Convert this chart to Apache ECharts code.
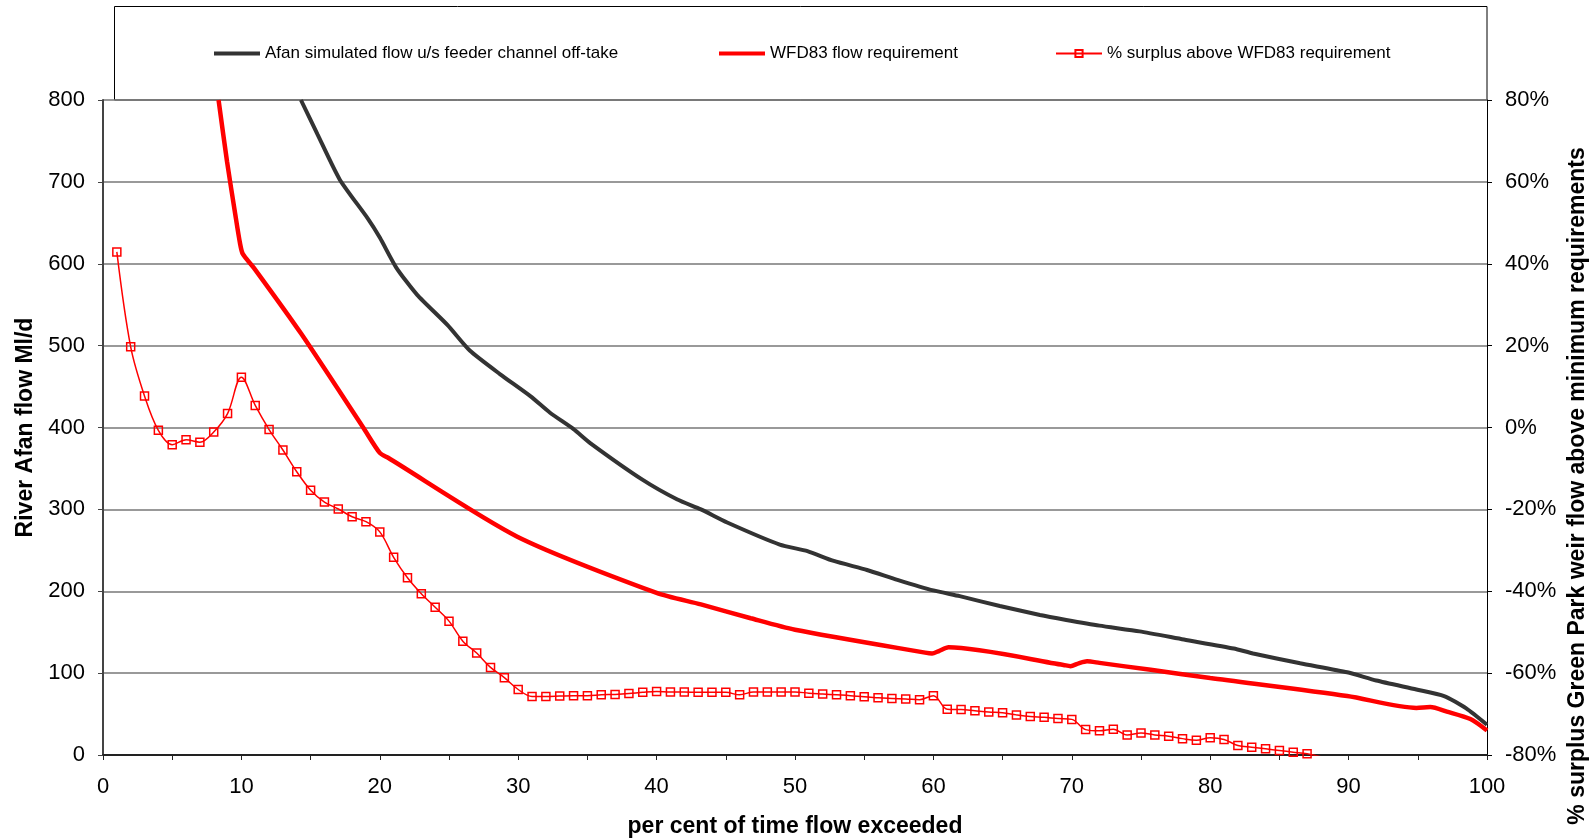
<!DOCTYPE html>
<html>
<head>
<meta charset="utf-8">
<script src="https://cdn.jsdelivr.net/npm/echarts@6/dist/echarts.min.js"></script>
<style>
html,body{margin:0;padding:0;background:#fff;}
#chart{width:1594px;height:838px;}
</style>
</head>
<body>
<div id="chart"></div>
<script>
// ---- data ----
var seriesNames = [
  'Afan simulated flow u/s feeder channel off-take',
  'WFD83 flow requirement',
  '% surplus above WFD83 requirement'
];
// per cent of time exceeded, simulated flow (Ml/d)
var afanFlow = [
  [14.3,800],[15.5,758],[17.1,703],[19.1,656],[20,632],[21.2,595],[22.7,562],[24.9,525],
  [26.5,494],[28.7,465],[30.9,438],[32.3,418],[34,398],[35.2,381],[39,336],
  [41.5,312],[43.2,300],[45.1,284],[48.9,257],[50.9,249],[52.8,237],[55.2,226],[57.4,214],
  [60,201],[61.9,194],[64.8,182],[67.7,171],[69.6,165],[72,158],[74.9,151],[78.1,141],
  [81.7,130],[83.1,124],[86.5,112],[89.9,101],[92,91],[94.9,80],[96.9,72],[98.5,57],[100,37]
];
// WFD83 flow requirement (Ml/d)
var wfdFlow = [
  [8.35,800],[8.96,725],[9.56,660],[9.9,625],[10.1,612],[10.9,595],[14.3,515],[18.8,400],
  [20,369],[20.6,363],[29.9,267],[40,198],[43.2,184],[46.8,167],[50,153],[59.4,125],
  [59.9,124],[60.4,127],[61.1,131.5],[69.4,110],[69.9,108.5],[70.5,112],[71.1,114.5],[72,112.5],
  [75.7,104],[80,94],[89.9,72],[94.9,57.5],[95.9,58.5],[97.1,53],[98.8,44],[100,30]
];
// % surplus above WFD83 requirement, at 1..89 per cent of time
var surplusPct = [
  42.9,19.7,7.7,-0.7,-4.2,-3.0,-3.6,-1.1,3.4,12.3,
  5.4,-0.5,-5.5,-10.8,-15.3,-18.2,-19.9,-21.8,-23.0,-25.5,
  -31.7,-36.7,-40.6,-43.9,-47.3,-52.2,-55.1,-58.6,-61.1,-64.0,
  -65.7,-65.7,-65.6,-65.5,-65.5,-65.3,-65.2,-65.0,-64.7,-64.5,
  -64.6,-64.6,-64.7,-64.7,-64.7,-65.3,-64.6,-64.6,-64.6,-64.6,
  -64.9,-65.1,-65.3,-65.5,-65.8,-66.0,-66.2,-66.3,-66.5,-65.5,
  -68.8,-68.9,-69.2,-69.5,-69.7,-70.2,-70.6,-70.8,-71.1,-71.3,
  -73.8,-74.1,-73.7,-75.1,-74.6,-75.1,-75.4,-76.0,-76.4,-75.8,
  -76.2,-77.7,-78.1,-78.5,-78.9,-79.3,-79.7,-80.4,-81.0
];
var surplusX = [];
for (var i = 1; i <= surplusPct.length; i++) surplusX.push(i);
var surplusData = surplusX.map(function (x, i) { return [x, surplusPct[i]]; });

var xTitle = 'per cent of time flow exceeded';
var yLeftTitle = 'River Afan flow Ml/d';
var yRightTitle = '% surplus Green Park weir flow above minimum requirements';

// ---- chart ----
var FONT = 'Liberation Sans, Arial, sans-serif';
var chart = echarts.init(document.getElementById('chart'), null, {renderer: 'canvas'});
var legendBase = {
  top: 40, itemWidth: 46, z: 10,
  textStyle: {fontFamily: FONT, fontSize: 17, color: '#000'}
};
chart.setOption({
  animation: false,
  backgroundColor: '#fff',
  graphic: [{
    type: 'rect', z: 0,
    shape: {x: 114.5, y: 6.5, width: 1372.5, height: 93.5},
    style: {fill: '#fff', stroke: '#000', lineWidth: 1}
  }, {
    type: 'text', z: 10, x: 1578, y: 486, rotation: Math.PI / 2,
    style: {text: yRightTitle, font: 'bold 23px ' + FONT, fill: '#000',
      align: 'center', verticalAlign: 'middle'}
  }],
  legend: [
    Object.assign({}, legendBase, {left: 209, itemHeight: 4,
      data: [{name: seriesNames[0], icon: 'rect'}]}),
    Object.assign({}, legendBase, {left: 714, itemHeight: 4,
      data: [{name: seriesNames[1], icon: 'rect'}]}),
    Object.assign({}, legendBase, {left: 1050, itemHeight: 9,
      data: [seriesNames[2]]})
  ],
  grid: {left: 103, right: 107, top: 100, bottom: 83, containLabel: false,
    outerBoundsMode: 'none'},
  xAxis: {
    type: 'value', min: 0, max: 100, interval: 5,
    name: xTitle, nameLocation: 'middle', nameGap: 60,
    nameTextStyle: {fontFamily: FONT, fontSize: 23, fontWeight: 'bold', color: '#000'},
    axisLine: {show: true, lineStyle: {color: '#222', width: 2}},
    axisTick: {show: true, length: 5, lineStyle: {color: '#222'}},
    axisLabel: {fontFamily: FONT, fontSize: 22, color: '#000', margin: 21,
      formatter: function (v) { return v % 10 === 0 ? String(v) : ''; }},
    splitLine: {show: false}
  },
  yAxis: [{
    type: 'value', min: 0, max: 800, interval: 100, position: 'left',
    name: yLeftTitle, nameLocation: 'middle', nameGap: 64, nameRotate: 90,
    nameTextStyle: {fontFamily: FONT, fontSize: 23, fontWeight: 'bold', color: '#000'},
    axisLine: {show: true, lineStyle: {color: '#444', width: 2}},
    axisTick: {show: true, length: 5, lineStyle: {color: '#444'}},
    axisLabel: {fontFamily: FONT, fontSize: 22, color: '#000', margin: 18},
    splitLine: {show: true, lineStyle: {color: '#777', width: 1.5}}
  }, {
    type: 'value', min: -80, max: 80, interval: 20, position: 'right',
    axisLine: {show: true, lineStyle: {color: '#000', width: 1}},
    axisTick: {show: true, length: 5, lineStyle: {color: '#000'}},
    axisLabel: {fontFamily: FONT, fontSize: 22, color: '#000', margin: 18,
      formatter: function (v) { return v + '%'; }},
    splitLine: {show: false}
  }],
  series: [{
    name: seriesNames[0], type: 'line', yAxisIndex: 0, data: afanFlow,
    showSymbol: false, symbol: 'none', smooth: 0.2, z: 3,
    lineStyle: {color: '#333333', width: 4}, itemStyle: {color: '#333333'}
  }, {
    name: seriesNames[1], type: 'line', yAxisIndex: 0, data: wfdFlow,
    showSymbol: false, symbol: 'none', smooth: 0.25, z: 4,
    lineStyle: {color: '#ff0000', width: 4.5}, itemStyle: {color: '#ff0000'}
  }, {
    name: seriesNames[2], type: 'line', yAxisIndex: 1, data: surplusData,
    symbol: 'rect', symbolSize: 8, smooth: 0.35, z: 5,
    lineStyle: {color: '#ff0000', width: 1.5},
    itemStyle: {color: 'rgba(255,255,255,0)', borderColor: '#ff0000', borderWidth: 1.5}
  }]
});
</script>
</body>
</html>
